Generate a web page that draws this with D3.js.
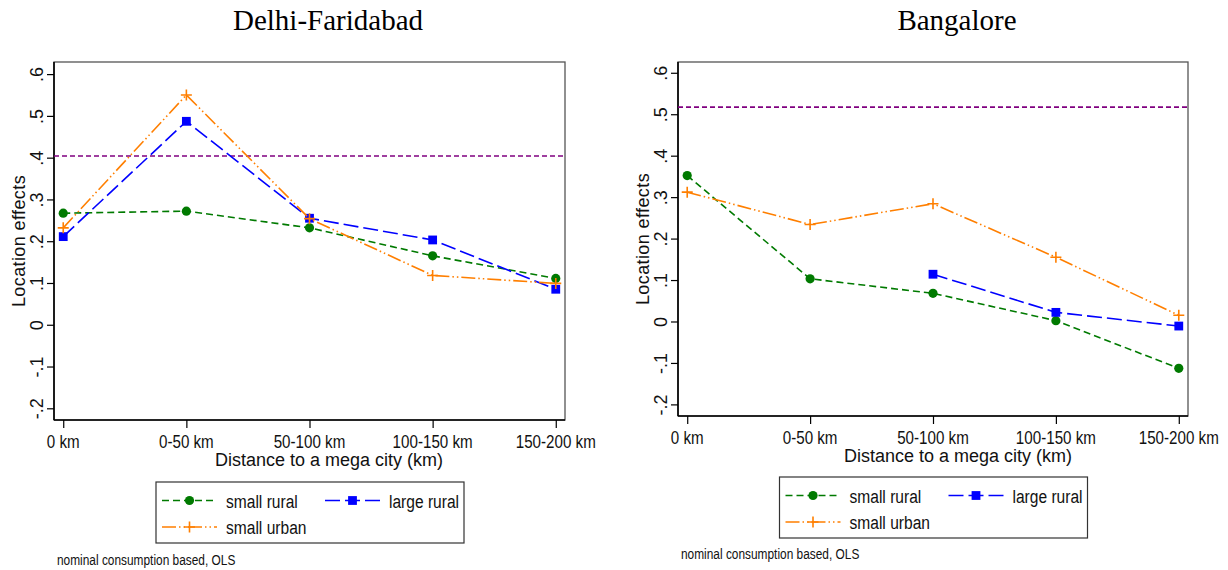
<!DOCTYPE html>
<html>
<head>
<meta charset="utf-8">
<script src="https://cdn.jsdelivr.net/npm/d3@7"></script>
<style>
  html, body { margin: 0; padding: 0; background: #fff; }
  svg { display: block; }
</style>
</head>
<body>
<svg id="chart" width="1228" height="570"></svg>
<script>
// Distance bands on the x axis
const distanceBands = ["0 km", "0-50 km", "50-100 km", "100-150 km", "150-200 km"];
// Y axis tick values
const yTickValues = [-0.2, -0.1, 0, 0.1, 0.2, 0.3, 0.4, 0.5, 0.6];

// Delhi-Faridabad location effects
const delhiSmallRural = [0.267, 0.272, 0.232, 0.165, 0.111];
const delhiLargeRural = [0.211, 0.487, 0.255, 0.203, 0.085];
const delhiSmallUrban = [0.232, 0.550, 0.254, 0.118, 0.099];
const delhiMegaCity = 0.404;

// Bangalore location effects (large rural missing for the nearest bands)
const bangaloreSmallRural = [0.352, 0.103, 0.068, 0.002, -0.113];
const bangaloreLargeRural = [null, null, 0.114, 0.022, -0.011];
const bangaloreSmallUrban = [0.312, 0.234, 0.284, 0.155, 0.015];
const bangaloreMegaCity = 0.517;

const seriesNames = ["small rural", "large rural", "small urban"];

const svg = d3.select("#chart");

// Series styling
const styles = {
  "small rural": { color: "#007a00", dash: "7,4", marker: "circle" },
  "large rural": { color: "#0000ff", dash: "15,5", marker: "square" },
  "small urban": { color: "#ff7f00", dash: "14,3,1.5,3,1.5,3", marker: "plus" }
};

const sansFont = "'Liberation Sans', Arial, sans-serif";
const narrowFont = "'Liberation Sans Narrow', 'Arial Narrow', 'Liberation Sans', Arial, sans-serif";

// Check whether a condensed face is available; otherwise squeeze horizontally
const probe = svg.append("text").attr("font-family", narrowFont).attr("font-size", 18).text("small rural");
const narrowScale = probe.node().getComputedTextLength() > 75 ? 0.82 : 1;
probe.remove();

function narrowText(g, x, y, str, size, anchor) {
  return g.append("text")
    .attr("transform", `translate(${x},${y}) scale(${narrowScale},1)`)
    .attr("font-family", narrowFont)
    .attr("font-size", size)
    .attr("text-anchor", anchor || "start")
    .attr("fill", "#111")
    .text(str);
}

function drawMarker(g, type, x, y, color) {
  if (type === "circle") {
    g.append("circle").attr("cx", x).attr("cy", y).attr("r", 4.6).attr("fill", color);
  } else if (type === "square") {
    g.append("rect").attr("x", x - 4.4).attr("y", y - 4.4).attr("width", 8.8).attr("height", 8.8).attr("fill", color);
  } else {
    g.append("path")
      .attr("d", `M${x - 5.5},${y}H${x + 5.5}M${x},${y - 5.5}V${y + 5.5}`)
      .attr("stroke", color).attr("stroke-width", 1.6).attr("fill", "none");
  }
}

// Labels like ".6", "0", "-.1"
const tickFormat = v => {
  if (Math.abs(v) < 1e-9) return "0";
  const s = Math.abs(v).toFixed(1).replace(/^0/, "");
  return (v < 0 ? "-" : "") + s;
};

function drawPanel(cfg) {
  const g = svg.append("g");
  const x = d3.scalePoint().domain(distanceBands).range([cfg.left, cfg.right]).padding(0.075);
  const y = d3.scaleLinear().domain(cfg.yDomain).range([cfg.bottom, cfg.top]);

  // Title
  g.append("text")
    .attr("x", cfg.titleX).attr("y", 30)
    .attr("text-anchor", "middle")
    .attr("font-family", "'Liberation Serif', 'Times New Roman', serif")
    .attr("font-size", 29)
    .attr("fill", "#000")
    .text(cfg.title);

  // Plot frame
  g.append("rect")
    .attr("x", cfg.left).attr("y", cfg.top)
    .attr("width", cfg.right - cfg.left).attr("height", cfg.bottom - cfg.top)
    .attr("fill", "none").attr("stroke", "#555").attr("stroke-width", 1.3);

  // Y axis
  const yAxis = d3.axisLeft(y).tickValues(yTickValues).tickSize(7).tickFormat(tickFormat);
  const ya = g.append("g").attr("transform", `translate(${cfg.left},0)`).call(yAxis);
  ya.select(".domain").attr("stroke", "#000").attr("stroke-width", 1.6)
    .attr("d", `M0,${cfg.top}V${cfg.bottom}`);
  ya.selectAll(".tick line").attr("stroke", "#000").attr("stroke-width", 1.2);
  ya.selectAll(".tick text")
    .attr("font-family", sansFont).attr("font-size", 18).attr("fill", "#111")
    .attr("x", null).attr("dy", null).attr("text-anchor", "middle")
    .attr("transform", "translate(-11,0) rotate(-90)");

  // X axis
  const xAxis = d3.axisBottom(x).tickSize(8).tickFormat(() => "");
  const xa = g.append("g").attr("transform", `translate(0,${cfg.bottom})`).call(xAxis);
  xa.select(".domain").attr("stroke", "#000").attr("stroke-width", 1.6)
    .attr("d", `M${cfg.left},0H${cfg.right}`);
  xa.selectAll(".tick line").attr("stroke", "#000").attr("stroke-width", 1.2);
  distanceBands.forEach(b => narrowText(g, x(b), cfg.bottom + 28, b, 18.5, "middle"));

  // Axis titles
  g.append("text")
    .attr("transform", `translate(${cfg.left - 29},${(cfg.top + cfg.bottom) / 2}) rotate(-90)`)
    .attr("text-anchor", "middle")
    .attr("font-family", sansFont).attr("font-size", 18)
    .attr("letter-spacing", 0.4)
    .attr("fill", "#111")
    .text("Location effects");
  g.append("text")
    .attr("x", cfg.titleX + 1).attr("y", cfg.bottom + 46)
    .attr("text-anchor", "middle")
    .attr("font-family", sansFont).attr("font-size", 18)
    .attr("fill", "#111")
    .text("Distance to a mega city (km)");

  // Mega-city reference line
  g.append("line")
    .attr("x1", cfg.left).attr("x2", cfg.right)
    .attr("y1", y(cfg.megaCity)).attr("y2", y(cfg.megaCity))
    .attr("stroke", "#800080").attr("stroke-width", 1.7).attr("stroke-dasharray", "5,3");

  // Series lines and markers
  seriesNames.forEach((name, i) => {
    const vals = cfg.series[i];
    const st = styles[name];
    const pts = distanceBands.map((b, j) => ({ band: b, v: vals[j] }));
    const line = d3.line().defined(d => d.v !== null).x(d => x(d.band)).y(d => y(d.v));
    g.append("path").datum(pts)
      .attr("d", line)
      .attr("fill", "none").attr("stroke", st.color)
      .attr("stroke-width", 1.6).attr("stroke-dasharray", st.dash);
    pts.filter(d => d.v !== null).forEach(d => drawMarker(g, st.marker, x(d.band), y(d.v), st.color));
  });

  // Legend
  const lg = g.append("g").attr("transform", `translate(${cfg.legendX},${cfg.legendY})`);
  lg.append("rect").attr("x", 0).attr("y", 0).attr("width", 308).attr("height", 61)
    .attr("fill", "#fff").attr("stroke", "#333").attr("stroke-width", 1.2);
  const slots = [
    { name: "small rural", sx: 6, ty: 18.5 },
    { name: "large rural", sx: 169, ty: 18.5 },
    { name: "small urban", sx: 6, ty: 45 }
  ];
  slots.forEach(s => {
    const st = styles[s.name];
    lg.append("line").attr("x1", s.sx).attr("x2", s.sx + 55)
      .attr("y1", s.ty).attr("y2", s.ty)
      .attr("stroke", st.color).attr("stroke-width", 1.6).attr("stroke-dasharray", st.dash);
    drawMarker(lg, st.marker, s.sx + 27.5, s.ty, st.color);
    narrowText(lg, s.sx + 64, s.ty + 7, s.name, 19, "start");
  });

  // Note
  narrowText(g, cfg.noteX, cfg.noteY, "nominal consumption based, OLS", 14.5, "start");
}

drawPanel({
  title: "Delhi-Faridabad", titleX: 328,
  left: 54, right: 565, top: 62, bottom: 420,
  yDomain: [-0.228, 0.629],
  series: [delhiSmallRural, delhiLargeRural, delhiSmallUrban],
  megaCity: delhiMegaCity,
  legendX: 156, legendY: 482,
  noteX: 57, noteY: 565
});

drawPanel({
  title: "Bangalore", titleX: 957,
  left: 678, right: 1188, top: 62, bottom: 416,
  yDomain: [-0.228, 0.626],
  series: [bangaloreSmallRural, bangaloreLargeRural, bangaloreSmallUrban],
  megaCity: bangaloreMegaCity,
  legendX: 779.5, legendY: 477,
  noteX: 681, noteY: 559
});
</script>
</body>
</html>
